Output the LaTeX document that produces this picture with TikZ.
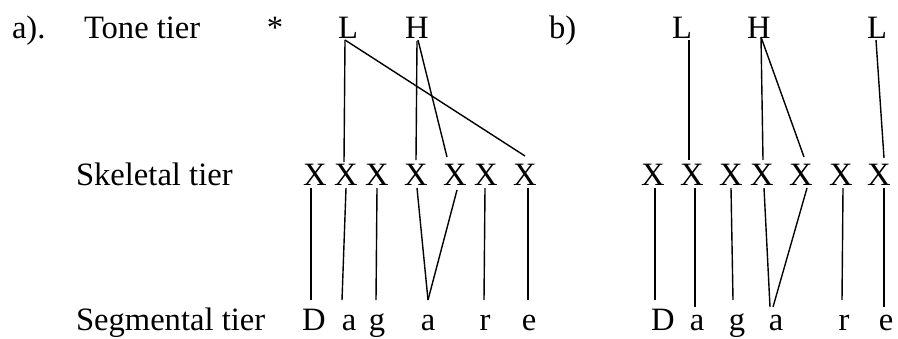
\documentclass[tikz,border=0pt]{standalone}
\usepackage{fontspec}
\setmainfont{Liberation Serif}
\usetikzlibrary{calc}
\begin{document}
\begin{tikzpicture}[x=0.5pt,y=-0.5pt,
  every node/.style={inner sep=0pt,outer sep=0pt,font=\fontsize{16.3}{19}\selectfont},
  sym/.style={anchor=base},
  lab/.style={anchor=base west},
  link/.style={line width=0.7pt}]
\useasboundingbox (0,0) rectangle (898,338);
% labels
\node[lab] (la) at (12,38) {a).};
\node[lab] (tone) at (84,38) {Tone tier};
\node[lab] (skel) at (76,185) {Skeletal tier};
\node[lab] (segm) at (76,330) {Segmental tier};
\node[sym] (star) at (275,38) {*};
\node[lab] (lb) at (549,38) {b)};
% ---- a) ----
\node[sym] (aL) at (348,38) {L};
\node[sym] (aH) at (417,38) {H};
\foreach \n/\x in {1/315,2/346,3/377,4/416,5/455,6/486,7/525}
  \node[sym] (aX\n) at (\x,185) {X};
\node[sym] (aS1) at (314,330) {D};
\node[sym] (aS2) at (349,330) {a};
\node[sym] (aS3) at (377,330) {g};
\node[sym] (aS4) at (428,330) {a};
\node[sym] (aS5) at (485,330) {r};
\node[sym] (aS6) at (529,330) {e};
\draw[link] ($(aL.base)+(-3,2)$) -- ($(aX2.base)+(-2,-23)$);
\draw[link] ($(aL.base)+(-3,2)$) -- ($(aX7.base)+(0,-29)$);
\draw[link] ($(aH.base)+(0,3)$) -- ($(aX4.base)+(0,-25)$);
\draw[link] ($(aH.base)+(1,2)$) -- ($(aX5.base)+(-8,-28)$);
\draw[link] ($(aX1.base)+(-4,3)$) -- ($(aS1.base)+(-3,-30)$);
\draw[link] ($(aX2.base)+(0,3)$) -- ($(aS2.base)+(-7,-30)$);
\draw[link] ($(aX3.base)+(0,3)$) -- ($(aS3.base)+(-1,-30)$);
\draw[link] ($(aX4.base)+(1,3)$) -- ($(aS4.base)+(0,-30)$);
\draw[link] ($(aX5.base)+(2,5)$) -- ($(aS4.base)+(0,-30)$);
\draw[link] ($(aX6.base)+(-1,3)$) -- ($(aS5.base)+(-1,-30)$);
\draw[link] ($(aX7.base)+(3,3)$) -- ($(aS6.base)+(-1,-30)$);
% ---- b) ----
\node[sym] (bL1) at (682,38) {L};
\node[sym] (bH) at (759,38) {H};
\node[sym] (bL2) at (877,38) {L};
\foreach \n/\x in {1/653,2/692,3/731,4/762,5/801,6/841,7/879}
  \node[sym] (bX\n) at (\x,185) {X};
\node[sym] (bS1) at (663,330) {D};
\node[sym] (bS2) at (697,330) {a};
\node[sym] (bS3) at (737,330) {g};
\node[sym] (bS4) at (776,330) {a};
\node[sym] (bS5) at (844,330) {r};
\node[sym] (bS6) at (886,330) {e};
\draw[link] ($(bL1.base)+(7,2)$) -- ($(bX2.base)+(-3,-25)$);
\draw[link] ($(bH.base)+(2,-1)$) -- ($(bX4.base)+(1,-25)$);
\draw[link] ($(bH.base)+(2,-1)$) -- ($(bX5.base)+(3,-28)$);
\draw[link] ($(bL2.base)+(-1,2)$) -- ($(bX7.base)+(5,-27)$);
\draw[link] ($(bX1.base)+(2,3)$) -- ($(bS1.base)+(-8,-30)$);
\draw[link] ($(bX2.base)+(3,3)$) -- ($(bS2.base)+(-2,-23)$);
\draw[link] ($(bX3.base)+(0,3)$) -- ($(bS3.base)+(-4,-30)$);
\draw[link] ($(bX4.base)+(2,3)$) -- ($(bS4.base)+(-6,-23)$);
\draw[link] ($(bX5.base)+(6,3)$) -- ($(bS4.base)+(-3,-23)$);
\draw[link] ($(bX6.base)+(2,3)$) -- ($(bS5.base)+(-2,-30)$);
\draw[link] ($(bX7.base)+(5,3)$) -- ($(bS6.base)+(-2,-23)$);
\end{tikzpicture}
\end{document}
